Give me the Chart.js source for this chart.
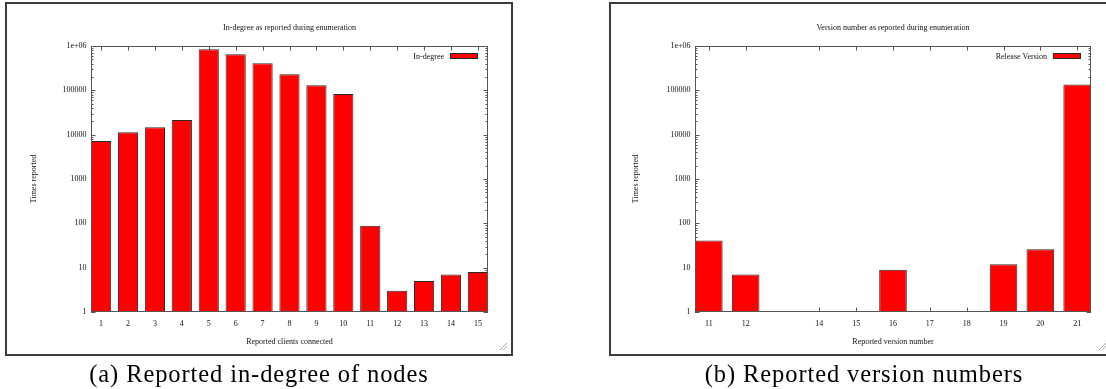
<!DOCTYPE html>
<html><head><meta charset="utf-8">
<script src="https://cdn.jsdelivr.net/npm/chart.js@4.4.1/dist/chart.umd.min.js"></script>
<style>
html,body{margin:0;padding:0;background:#fff;overflow:hidden;width:1106px;height:389px;}
.frame{position:absolute;top:2px;height:354px;box-sizing:border-box;border:2px solid #3c3c3c;}
.grip{position:absolute;width:7px;height:7px;background:linear-gradient(135deg,transparent 0 45%,#aaa 45% 52%,transparent 52% 70%,#aaa 70% 77%,transparent 77%);}
.wrap{position:absolute;top:0;height:389px;width:553px;}
.cap{position:absolute;top:362px;line-height:24px;font-family:"Liberation Serif",serif;font-size:24.5px;letter-spacing:0.9px;white-space:nowrap;transform:translateX(-50%);color:#000;}
</style></head>
<body>
<div class="frame" style="left:5px;width:508px"></div>
<div class="grip" style="left:500px;top:343px"></div>
<div class="frame" style="left:609px;width:520px"></div>
<div class="grip" style="left:1099px;top:343px"></div>
<div class="wrap" style="left:0"><canvas id="c1" width="553" height="389"></canvas></div>
<div class="wrap" style="left:553px"><canvas id="c2" width="553" height="389"></canvas></div>
<div class="cap" style="left:259px">(a) Reported in-degree of nodes</div>
<div class="cap" style="left:864px">(b) Reported version numbers</div>
<script>
// ---- data ----
const inDegreeCategories = [1,2,3,4,5,6,7,8,9,10,11,12,13,14,15];
const inDegreeCounts = [7200,11300,14700,21400,843000,650000,408000,230000,130000,82800,88,3,5,7,8];
const versionCategories = [11,12,14,15,16,17,18,19,20,21];
const versionCounts = [41,7,null,null,9,null,null,12,26,135000];
const yTickValues = [1,10,100,1000,10000,100000,1000000];
const yTickLabels = ['1','10','100','1000','10000','100000','1e+06'];
const yMinorMultipliers = [2,3,4,5,6,7,8,9];

const SERIF = '"Liberation Serif", "Times New Roman", serif';
Chart.defaults.font.family = SERIF;
Chart.defaults.font.size = 8;
Chart.defaults.color = '#111';

const gnuplotLook = {
  id: 'gnuplotLook',
  beforeDatasetsDraw(chart, args, opts) {
    const {ctx, chartArea: a, scales: {x, y}} = chart;
    const MAJ = 4.5, MIN = 2.5;
    ctx.save();
    ctx.strokeStyle = '#555';
    ctx.lineWidth = 1;
    ctx.beginPath();
    x.ticks.forEach(t => {
      const px = Math.round(x.getPixelForValue(t.value)) + 0.5;
      ctx.moveTo(px, a.bottom); ctx.lineTo(px, a.bottom - MAJ);
      ctx.moveTo(px, a.top); ctx.lineTo(px, a.top + MAJ);
    });
    y.ticks.forEach(t => {
      const py = Math.round(y.getPixelForValue(t.value)) + 0.5;
      ctx.moveTo(a.left, py); ctx.lineTo(a.left + MAJ, py);
      ctx.moveTo(a.right, py); ctx.lineTo(a.right - MAJ, py);
    });
    for (let i = 0; i < yTickValues.length - 1; i++) {
      yMinorMultipliers.forEach(m => {
        const py = Math.round(y.getPixelForValue(yTickValues[i] * m)) + 0.5;
        ctx.moveTo(a.left, py); ctx.lineTo(a.left + MIN, py);
        ctx.moveTo(a.right, py); ctx.lineTo(a.right - MIN, py);
      });
    }
    ctx.stroke();
    ctx.restore();
  },
  afterDatasetsDraw(chart, args, opts) {
    const {ctx, chartArea: a} = chart;
    ctx.save();
    ctx.strokeStyle = '#555';
    ctx.lineWidth = 1;
    ctx.strokeRect(Math.round(a.left) + 0.5, Math.round(a.top) + 0.5,
                   Math.round(a.right - a.left) - 1, Math.round(a.bottom - a.top) - 1);
    // title
    ctx.fillStyle = '#111';
    ctx.font = '8px ' + SERIF;
    ctx.textAlign = 'center';
    ctx.textBaseline = 'middle';
    ctx.fillText(opts.title, (a.left + a.right) / 2, 28);
    // legend (gnuplot style: text then sample)
    const ds = chart.data.datasets[0];
    const sw = 28, sh = 6;
    const sx = a.right - 10 - sw, sy = a.top + 7;
    ctx.fillStyle = ds.backgroundColor;
    ctx.fillRect(sx, sy, sw, sh);
    ctx.strokeStyle = ds.borderColor;
    ctx.strokeRect(sx + 0.5, sy + 0.5, sw - 1, sh - 1);
    ctx.fillStyle = '#111';
    ctx.textAlign = 'right';
    ctx.fillText(ds.label, sx - 6, sy + sh / 2 + 0.5);
    ctx.restore();
  }
};

function makeChart(id, cats, counts, label, title, xTitle, cfg) {
  return new Chart(document.getElementById(id), {
    type: 'bar',
    data: {
      datasets: [{
        label: label,
        data: cats.map((c, i) => ({x: c, y: counts[i]})),
        backgroundColor: '#ff0000',
        borderColor: '#2a2a2a',
        borderWidth: 1,
        borderSkipped: false,
        categoryPercentage: 1,
        barPercentage: 0.75
      }]
    },
    options: {
      responsive: false,
      animation: false,
      layout: {padding: {top: 46, right: cfg.padRight, left: 0, bottom: 0}},
      plugins: {
        legend: {display: false},
        title: {display: false},
        tooltip: {enabled: false},
        gnuplotLook: {title: title}
      },
      scales: {
        x: {
          type: 'linear',
          offset: false,
          bounds: 'data',
          min: cats[0] - 0.375,
          max: cats[cats.length - 1] + 0.375,
          grid: {display: false, drawTicks: false},
          border: {display: false},
          afterBuildTicks: s => { s.ticks = cats.map(v => ({value: v})); },
          afterFit: s => { s.height = 77; },
          ticks: {autoSkip: false, maxRotation: 0, padding: 7.2, callback: v => String(v)},
          title: {display: true, text: xTitle, padding: {top: 0, bottom: 42.2}}
        },
        y: {
          type: 'logarithmic',
          min: 1,
          max: 1000000,
          grid: {display: false, drawTicks: false},
          border: {display: false},
          afterBuildTicks: s => { s.ticks = yTickValues.map(v => ({value: v})); },
          afterFit: s => { s.width = cfg.yWidth; },
          ticks: {autoSkip: false, padding: 4.5, callback: v => yTickLabels[yTickValues.indexOf(v)]},
          title: {display: true, text: 'Times reported', padding: {top: cfg.yTitlePad, bottom: 0}}
        }
      }
    },
    plugins: [gnuplotLook]
  });
}

makeChart('c1', inDegreeCategories, inDegreeCounts, 'In-degree',
  'In-degree as reported during enumeration', 'Reported clients connected',
  {padRight: 65, yWidth: 91, yTitlePad: 29.2});
makeChart('c2', versionCategories, versionCounts, 'Release Version',
  'Version number as reported during enumeration', 'Reported version number',
  {padRight: 15, yWidth: 142, yTitlePad: 78.2});
</script>
</body></html>
